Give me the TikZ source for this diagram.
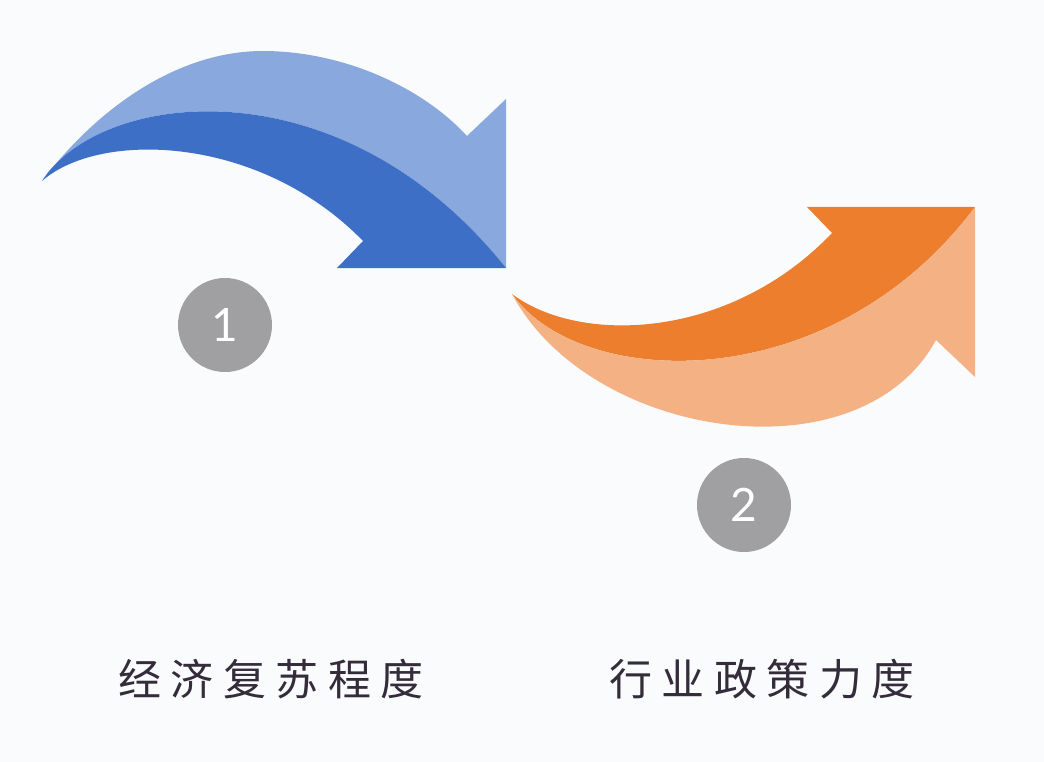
\documentclass[tikz,border=0pt]{standalone}
\usepackage{fontspec}
\newfontfamily\cjk[LetterSpace=22]{Noto Sans CJK SC}
\newfontfamily\numfont{Lato}
\definecolor{bg}{RGB}{250,251,253}
\definecolor{bluelight}{RGB}{137,168,222}
\definecolor{bluedark}{RGB}{62,111,198}
\definecolor{orangedark}{RGB}{236,126,46}
\definecolor{orangelight}{RGB}{244,178,132}
\definecolor{badge}{RGB}{160,160,162}
\definecolor{labeltext}{RGB}{52,44,58}
\tikzset{
  badgenode/.style={circle, fill=badge, minimum size=94pt, inner sep=0pt, text=white, font=\numfont\fontsize{46}{46}\selectfont},
  labelnode/.style={text=labeltext, inner sep=0pt, font=\cjk\fontsize{43}{43}\selectfont}
}
\begin{document}
\begin{tikzpicture}[x=1pt,y=-1pt]
\fill[bg] (0,0) rectangle (1044,762);
\useasboundingbox (0,0) rectangle (1044,762);
% blue arrow: light upper part
\fill[bluelight] (42,181) .. controls (100,105) and (180,51) .. (263,51)
  .. controls (340,51) and (420,85) .. (467,136)
  -- (506,99) -- (506,268)
  .. controls (340,60) and (100,90) .. (42,181) -- cycle;
% blue arrow: dark lower part
\fill[bluedark] (42,181) .. controls (100,90) and (340,60) .. (506,268)
  -- (337,268) -- (363,241)
  .. controls (260,135) and (100,130) .. (42,181) -- cycle;
% orange arrow: dark upper part
\fill[orangedark] (512,294) .. controls (580,345) and (730,340) .. (832,233)
  -- (807,207) -- (975,207)
  .. controls (830,400) and (580,390) .. (512,294) -- cycle;
% orange arrow: light lower part
\fill[orangelight] (512,294) .. controls (580,390) and (830,400) .. (975,207)
  -- (975,377) -- (936,340)
  .. controls (860,480) and (590,440) .. (512,294) -- cycle;
% badges
\node[badgenode] (c1) at (225,325) {1};
\node[badgenode] (c2) at (744,505) {2};
% labels
\node[labelnode] (t1) at (271,679) {经济复苏程度};
\node[labelnode] (t2) at (762,679) {行业政策力度};
\end{tikzpicture}
\end{document}
